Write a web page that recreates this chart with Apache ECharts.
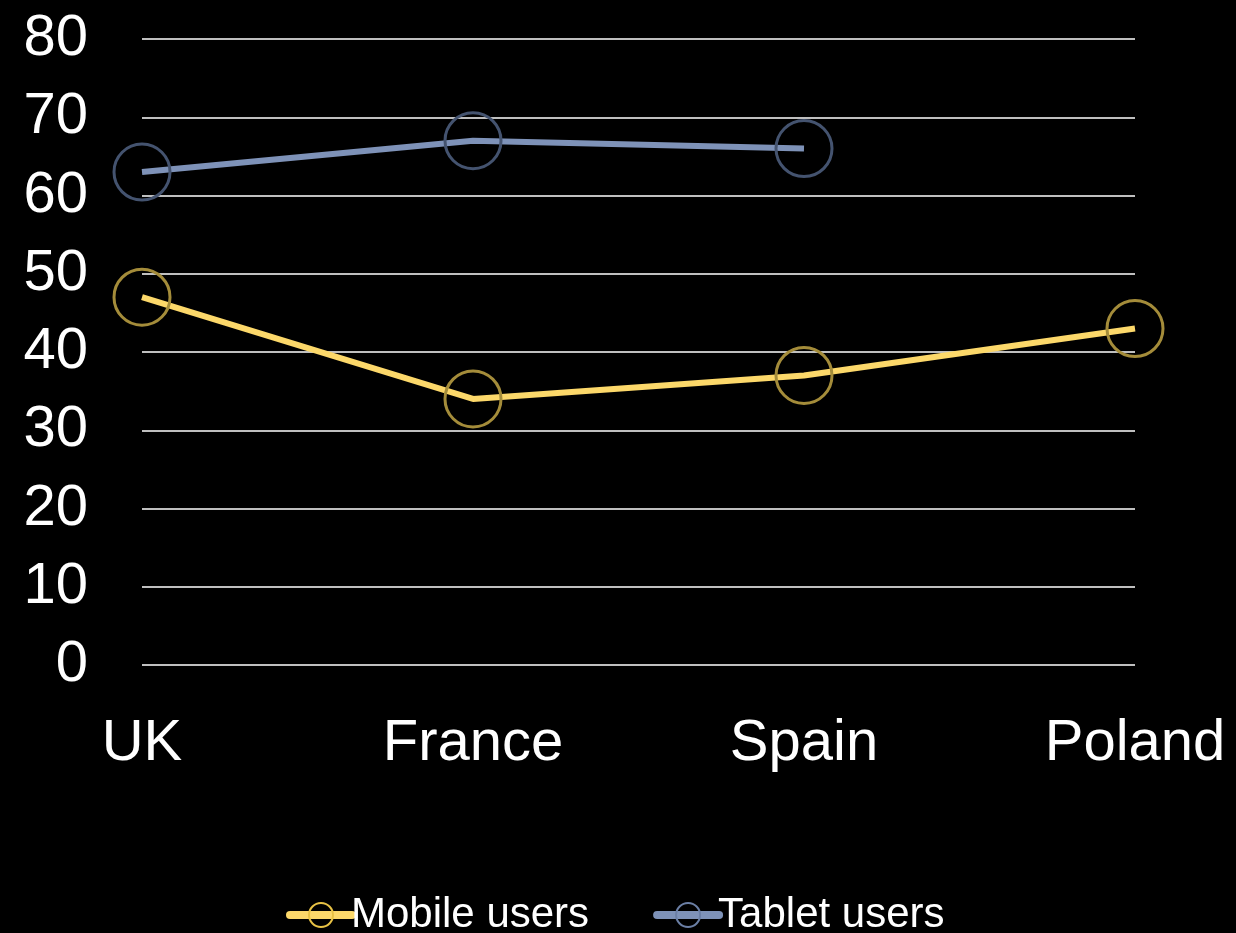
<!DOCTYPE html>
<html>
<head>
<meta charset="utf-8">
<script src="https://cdn.jsdelivr.net/npm/echarts@6/dist/echarts.min.js"></script>
<style>
  html, body { margin: 0; padding: 0; background: #000; }
  #chart { width: 1236px; height: 933px; }
</style>
</head>
<body>
<div id="chart"></div>
<script>
// Categories and series values (percent of users)
const countries = ['UK', 'France', 'Spain', 'Poland'];
const mobileUsers = [47, 34, 37, 43];
const tabletUsers = [63, 67, 66, null];
const seriesNames = ['Mobile users', 'Tablet users'];

const FONT = "'Liberation Sans', Arial, sans-serif";
const MOBILE_LINE = '#FCD86A';
const TABLET_LINE = '#7E92B8';

const chart = echarts.init(document.getElementById('chart'));

chart.setOption({
  backgroundColor: '#000000',
  animation: false,
  textStyle: { fontFamily: FONT },
  grid: { left: 142, right: 101, top: 39, bottom: 268 },
  legend: {
    bottom: -8,
    left: 281,
    itemWidth: 62,
    itemHeight: 30,
    itemGap: 64,
    textStyle: { color: '#ffffff', fontSize: 42, fontFamily: FONT, padding: [0, 0, 0, -6] },
    data: [
      {
        name: seriesNames[0],
        lineStyle: { color: MOBILE_LINE, width: 8, cap: 'round' },
        itemStyle: { color: 'rgba(0,0,0,0)', borderColor: '#E8C245', borderWidth: 2 }
      },
      {
        name: seriesNames[1],
        lineStyle: { color: TABLET_LINE, width: 8, cap: 'round' },
        itemStyle: { color: 'rgba(0,0,0,0)', borderColor: '#6B7FA5', borderWidth: 2 }
      }
    ]
  },
  xAxis: {
    type: 'category',
    data: countries,
    boundaryGap: false,
    axisLine: { show: false },
    axisTick: { show: false },
    axisLabel: { color: '#ffffff', fontSize: 58, fontFamily: FONT, margin: 50 }
  },
  yAxis: {
    type: 'value',
    min: 0,
    max: 80,
    interval: 10,
    axisLine: { show: false },
    axisTick: { show: false },
    axisLabel: { color: '#ffffff', fontSize: 58, fontFamily: FONT, margin: 54 },
    splitLine: { lineStyle: { color: '#ffffff', width: 1.5 } }
  },
  series: [
    {
      name: seriesNames[0],
      type: 'line',
      data: mobileUsers,
      symbol: 'circle',
      symbolSize: 56,
      lineStyle: { color: MOBILE_LINE, width: 6 },
      itemStyle: { color: 'rgba(0,0,0,0)', borderColor: '#A48C3A', borderWidth: 3 }
    },
    {
      name: seriesNames[1],
      type: 'line',
      data: tabletUsers,
      symbol: 'circle',
      symbolSize: 56,
      lineStyle: { color: TABLET_LINE, width: 6 },
      itemStyle: { color: 'rgba(0,0,0,0)', borderColor: '#44536F', borderWidth: 3 }
    }
  ]
});
</script>
</body>
</html>
